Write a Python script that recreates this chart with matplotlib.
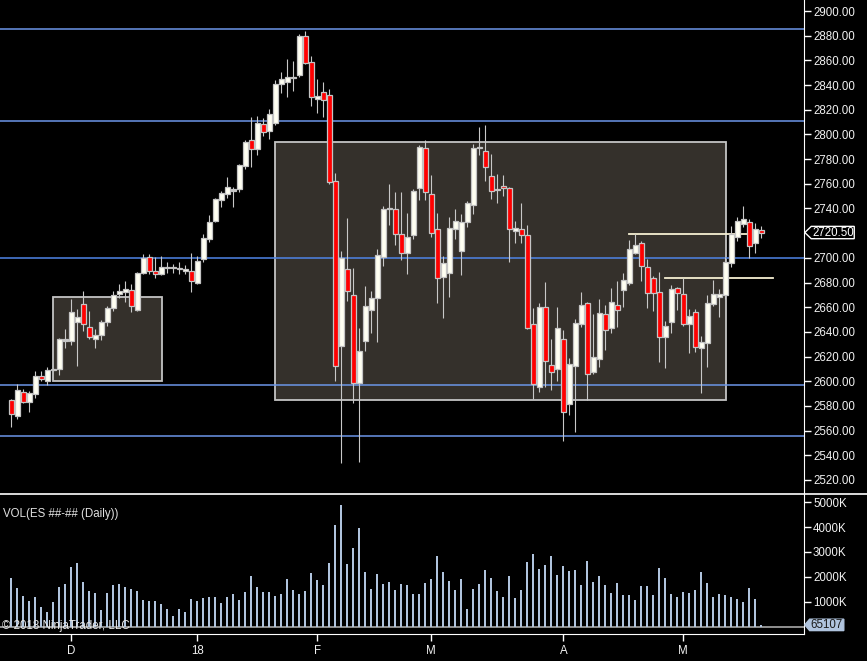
import matplotlib
matplotlib.use("Agg")
import matplotlib.pyplot as plt
import matplotlib.transforms as mtransforms
from matplotlib.patches import Rectangle, Polygon
from matplotlib.lines import Line2D
import numpy as np

plt.rcParams['font.family'] = ['Liberation Sans', 'DejaVu Sans']

# daily ES bars
opens = [2584.5, 2572.1, 2591.6, 2583.5, 2589.9, 2604.3, 2600.5, 2609.2, 2610.2, 2633.2,
         2632.9, 2648.3, 2662.3, 2643.7, 2634.5, 2637.7, 2647.7, 2659.6, 2671.0, 2672.6,
         2673.7, 2657.7, 2688.0, 2700.4, 2689.6, 2686.6, 2691.8, 2691.8, 2692.0, 2689.1,
         2689.6, 2679.3, 2698.8, 2715.5, 2730.1, 2746.6, 2751.5, 2754.8, 2755.5, 2774.1,
         2795.2, 2787.9, 2808.2, 2802.5, 2809.0, 2840.6, 2842.2, 2845.8, 2847.9, 2879.7,
         2858.4, 2828.4, 2834.1, 2831.7, 2762.0, 2628.8, 2690.7, 2669.6, 2598.8, 2632.9,
         2658.0, 2667.7, 2700.4, 2739.7, 2739.3, 2719.6, 2703.6, 2718.2, 2756.3, 2788.7,
         2751.5, 2723.1, 2684.2, 2688.0, 2723.6, 2705.3, 2728.8, 2742.5, 2789.1, 2786.8,
         2766.6, 2755.0, 2757.9, 2756.3, 2721.5, 2723.1, 2718.2, 2646.1, 2595.1, 2659.9,
         2612.9, 2609.7, 2634.5, 2581.3, 2612.1, 2646.1, 2663.1, 2607.2, 2617.8, 2654.2,
         2642.9, 2661.8, 2673.7, 2679.4, 2704.2, 2711.8, 2692.3, 2683.4, 2672.1, 2635.6,
         2648.3, 2675.3, 2670.4, 2646.1, 2656.1, 2626.7, 2631.3, 2662.9, 2668.0, 2669.6,
         2696.1, 2716.6, 2727.1, 2728.8, 2711.7, 2722.3]
highs = [2585.5, 2597.8, 2593.7, 2592.4, 2608.3, 2608.3, 2611.3, 2611.0, 2634.8, 2642.3,
         2666.6, 2658.5, 2673.1, 2656.9, 2642.3, 2649.6, 2661.0, 2673.1, 2678.8, 2681.2,
         2678.8, 2688.5, 2703.1, 2703.1, 2700.4, 2701.5, 2696.6, 2695.0, 2696.3, 2694.2,
         2703.6, 2701.5, 2719.0, 2734.4, 2748.2, 2754.2, 2765.5, 2757.7, 2776.0, 2795.5,
         2814.1, 2814.7, 2813.1, 2820.3, 2844.1, 2850.6, 2860.8, 2859.2, 2881.4, 2883.8,
         2863.5, 2844.9, 2842.5, 2836.8, 2768.5, 2705.5, 2732.3, 2691.8, 2643.1, 2677.2,
         2673.1, 2707.2, 2742.0, 2759.8, 2753.3, 2753.3, 2736.1, 2755.5, 2791.2, 2795.5,
         2767.1, 2736.1, 2701.5, 2732.8, 2739.6, 2735.2, 2745.8, 2792.2, 2806.3, 2807.6,
         2784.1, 2767.9, 2767.1, 2757.5, 2729.9, 2744.4, 2726.6, 2659.1, 2663.1, 2680.2,
         2634.3, 2660.2, 2641.3, 2618.9, 2650.4, 2672.1, 2664.5, 2654.5, 2666.6, 2661.8,
         2675.6, 2681.2, 2687.7, 2714.5, 2719.0, 2713.6, 2699.0, 2685.3, 2688.3, 2648.8,
         2678.0, 2676.6, 2683.4, 2658.6, 2658.3, 2636.7, 2669.9, 2682.1, 2674.8, 2700.9,
         2725.8, 2732.8, 2742.0, 2731.5, 2728.2, 2725.5]
lows = [2563.2, 2569.4, 2582.4, 2575.4, 2586.7, 2600.2, 2597.0, 2608.0, 2605.3, 2627.0,
        2629.4, 2612.4, 2641.0, 2634.2, 2627.2, 2633.7, 2644.8, 2656.9, 2667.7, 2664.5,
        2656.4, 2657.2, 2686.9, 2687.2, 2683.9, 2685.8, 2687.7, 2687.4, 2686.6, 2686.6,
        2672.6, 2678.8, 2696.9, 2713.1, 2728.8, 2741.5, 2748.2, 2741.5, 2753.1, 2771.7,
        2773.9, 2783.6, 2799.0, 2796.6, 2807.4, 2833.8, 2830.6, 2835.5, 2846.3, 2856.8,
        2823.3, 2817.6, 2814.4, 2760.1, 2600.5, 2534.0, 2665.3, 2582.1, 2534.8, 2624.8,
        2639.4, 2632.1, 2693.7, 2726.9, 2710.7, 2698.5, 2687.2, 2715.0, 2747.1, 2746.9,
        2717.2, 2663.7, 2651.5, 2668.5, 2715.5, 2686.4, 2724.7, 2735.5, 2783.3, 2762.5,
        2747.9, 2744.7, 2750.1, 2696.9, 2712.3, 2712.3, 2642.1, 2585.6, 2591.0, 2595.6,
        2593.2, 2600.5, 2551.9, 2572.7, 2559.2, 2644.2, 2584.8, 2606.0, 2611.8, 2625.3,
        2639.4, 2644.2, 2660.4, 2678.0, 2702.8, 2681.2, 2659.6, 2656.9, 2615.9, 2611.0,
        2639.4, 2657.7, 2645.1, 2623.2, 2624.0, 2590.8, 2611.8, 2661.3, 2652.4, 2666.4,
        2692.9, 2713.9, 2724.7, 2700.1, 2704.2, 2715.8]
closes = [2573.2, 2592.6, 2583.5, 2590.2, 2604.3, 2602.1, 2608.9, 2609.6, 2634.0, 2633.6,
          2655.8, 2651.8, 2646.1, 2636.1, 2637.2, 2647.7, 2659.1, 2669.6, 2673.1, 2674.5,
          2661.2, 2687.4, 2699.6, 2689.0, 2686.6, 2692.8, 2692.2, 2692.2, 2690.7, 2690.7,
          2681.0, 2697.7, 2715.8, 2728.8, 2747.4, 2752.3, 2757.1, 2755.2, 2774.9, 2793.6,
          2787.9, 2809.0, 2802.0, 2816.3, 2840.6, 2844.6, 2846.3, 2846.2, 2879.7, 2858.1,
          2830.1, 2830.9, 2827.6, 2761.7, 2612.6, 2699.6, 2673.4, 2598.3, 2624.3, 2660.7,
          2667.2, 2702.0, 2739.3, 2740.1, 2719.1, 2703.6, 2716.6, 2753.9, 2789.5, 2753.3,
          2719.9, 2683.4, 2695.5, 2723.9, 2729.6, 2728.8, 2744.2, 2788.7, 2789.5, 2773.3,
          2753.9, 2755.4, 2756.3, 2723.1, 2724.2, 2718.2, 2643.4, 2597.5, 2659.9, 2616.1,
          2607.2, 2642.9, 2574.8, 2613.7, 2646.9, 2661.5, 2605.6, 2619.4, 2655.1, 2641.3,
          2663.9, 2657.5, 2681.8, 2707.2, 2710.1, 2693.1, 2671.3, 2671.3, 2635.6, 2644.5,
          2674.5, 2671.3, 2646.7, 2652.6, 2627.5, 2631.5, 2663.1, 2670.4, 2670.4, 2696.4,
          2719.0, 2729.6, 2731.5, 2709.3, 2723.1, 2720.5]
# volume in thousands of contracts
volume = [1959, 1554, 1230, 1027, 1189, 784, 581, 986, 1595, 1716,
          2405, 2568, 1797, 1432, 1351, 662, 1351, 1676, 1716, 1595,
          1514, 1432, 1068, 1027, 1027, 905, 703, 419, 703, 581,
          1108, 1027, 1149, 1189, 1189, 946, 1189, 1311, 1068, 1392,
          2041, 1595, 1392, 1392, 1230, 1311, 1919, 1473, 1311, 1432,
          2162, 1878, 1676, 2568, 4068, 4878, 2527, 3176, 3946, 2203,
          1514, 2122, 1716, 1797, 1473, 1716, 1676, 1311, 1311, 1757,
          1919, 2851, 2203, 1838, 1473, 1919, 703, 1514, 1716, 2284,
          1959, 1432, 1189, 2041, 1149, 1473, 2608, 2932, 2324, 2486,
          2851, 2081, 2446, 2243, 2284, 1676, 2649, 1797, 2041, 1676,
          1351, 1757, 1270, 1270, 1068, 1635, 1635, 1270, 2365, 1959,
          1311, 1189, 1392, 1351, 1473, 2203, 1757, 1189, 1311, 1270,
          1189, 1108, 986, 1554, 1108, 65.107]

month_bars = [10, 31, 51, 70, 92, 112]
month_labels = ['D', '18', 'F', 'M', 'A', 'M']

h_levels = [2885.2, 2810.7, 2700.0, 2597.0, 2555.6]
# drawn rectangles: (bar from, bar to, price low, price high)
zones = [(7.0, 25.17, 2600.0, 2668.0), (44.0, 119.17, 2584.6, 2793.6)]
# short drawn lines: (bar from, bar to, price)
segments = [(102.95, 123.6, 2719.1), (108.95, 126.95, 2683.4)]

W, H = 867, 661
fig = plt.figure(figsize=(W / 100, H / 100), dpi=100, facecolor='black')
ax = fig.add_axes([0, 1 - 493 / H, 804 / W, 493 / H], facecolor='black')
axv = fig.add_axes([0, 1 - 634 / H, 804 / W, 140 / H], facecolor='black')

x = np.arange(len(opens))
wick_c = '#c8c8c8'
bw = 0.75

for zx0, zx1, zlo, zhi in zones:
    ax.add_patch(Rectangle((zx0, zlo), zx1 - zx0, zhi - zlo, facecolor='#34302b',
                           edgecolor='#c4c4c4', lw=1.3, zorder=1))
for lv in h_levels:
    ax.axhline(lv, color='#4f84e6' if lv == 2700.0 else '#6c96e8', lw=1.1, zorder=2)
for sx0, sx1, sp in segments:
    ax.plot([sx0, sx1], [sp, sp], color='#f5efd2', lw=1.3, zorder=2)

ax.vlines(x, lows, highs, color=wick_c, lw=0.8, zorder=3)
for i in x:
    o, c = opens[i], closes[i]
    lo, hi = min(o, c), max(o, c)
    if hi - lo < 1.2:
        fc = '#c8c8c8'
        mid = (hi + lo) / 2
        lo, hi = mid - 0.6, mid + 0.6
    else:
        fc = '#fffff2' if c >= o else '#ff0000'
    ax.add_patch(Rectangle((i - bw / 2, lo), bw, hi - lo, facecolor=fc,
                           edgecolor='#c4c4c4', lw=0.9, zorder=4))

last = closes[-1]
xlim = (-11.3 / 6, (804 - 11.3) / 6)
ax.set_xlim(*xlim)
ax.set_ylim(2900 - 482 / 1.2342, 2900 + 11 / 1.2342)
ax.yaxis.tick_right()
# the last price tag takes the place of the nearest tick
price_ticks = [t for t in np.arange(2520, 2901, 20) if abs(t - last) > 5]
ax.set_yticks(price_ticks)
ax.yaxis.set_major_formatter(matplotlib.ticker.FormatStrFormatter('%.2f'))
ax.tick_params(axis='y', colors='white', labelcolor='#f2f2f2', length=5, width=1,
               labelsize=8.3, pad=1.5)
ax.tick_params(axis='x', bottom=False, labelbottom=False)
for s in ['left', 'top', 'bottom']:
    ax.spines[s].set_visible(False)
ax.spines['right'].set_color('white')

# last price tag
tr = mtransforms.blended_transform_factory(ax.transAxes, ax.transData)
hh = 5.0
ax.add_patch(Polygon([(1.001, last), (1.009, last + hh), (1.0625, last + hh),
                      (1.0625, last - hh), (1.009, last - hh)], closed=True,
                     transform=tr, facecolor='black', edgecolor='white', lw=1,
                     clip_on=False, zorder=10))
ax.text(1.0365, last, f'{last:.2f}', transform=tr, color='white', fontsize=8.3,
        ha='center', va='center', clip_on=False, zorder=11)

# volume panel
axv.bar(x, volume, width=0.36, color='#b0c4de', zorder=3)
axv.axhline(0, color='#a8a8a8', lw=1.2, zorder=2)
axv.set_xlim(*xlim)
axv.set_ylim(-(634 - 626.5) / 0.02485, (626.5 - 494) / 0.02485)
axv.yaxis.tick_right()
axv.set_yticks([1000, 2000, 3000, 4000, 5000])
axv.set_yticklabels([f'{v}K' for v in [1000, 2000, 3000, 4000, 5000]])
axv.set_xticks(month_bars)
axv.set_xticklabels(month_labels)
axv.tick_params(axis='y', colors='white', labelcolor='#f2f2f2', length=5, width=1,
                labelsize=8.3, pad=1.5)
axv.tick_params(axis='x', colors='white', labelcolor='#f2f2f2', length=5, width=1,
                labelsize=8.3, pad=3)
for s in ['left', 'top']:
    axv.spines[s].set_visible(False)
axv.spines['right'].set_color('white')
axv.spines['bottom'].set_color('white')

trv = mtransforms.blended_transform_factory(axv.transAxes, axv.transData)
vh = 230
vlast = volume[-1]
axv.add_patch(Polygon([(1.001, vlast), (1.007, vlast + vh), (1.0495, vlast + vh),
                       (1.0495, vlast - vh), (1.007, vlast - vh)], closed=True,
                      transform=trv, facecolor='#b0c4de', edgecolor='#b0c4de', lw=1,
                      clip_on=False, zorder=10))
axv.text(1.028, vlast, f'{vlast * 1000:.0f}', transform=trv, color='#1a1a1a',
         fontsize=8.3, ha='center', va='center', clip_on=False, zorder=11)

axv.text(0.004, 0.86, 'VOL(ES ##-## (Daily))', transform=axv.transAxes,
         color='#e0e0e0', fontsize=8.3, ha='left', va='center')
axv.text(0.003, 0.06, '\u00a9 2018 NinjaTrader, LLC', transform=axv.transAxes,
         color='#e6e6e6', fontsize=8.3, ha='left', va='center', zorder=5)

# panel separator across full width
fig.add_artist(Line2D([0, 1], [1 - 494 / H, 1 - 494 / H], color='white', lw=1.2))

fig.savefig('out.png', dpi=100, facecolor='black')
